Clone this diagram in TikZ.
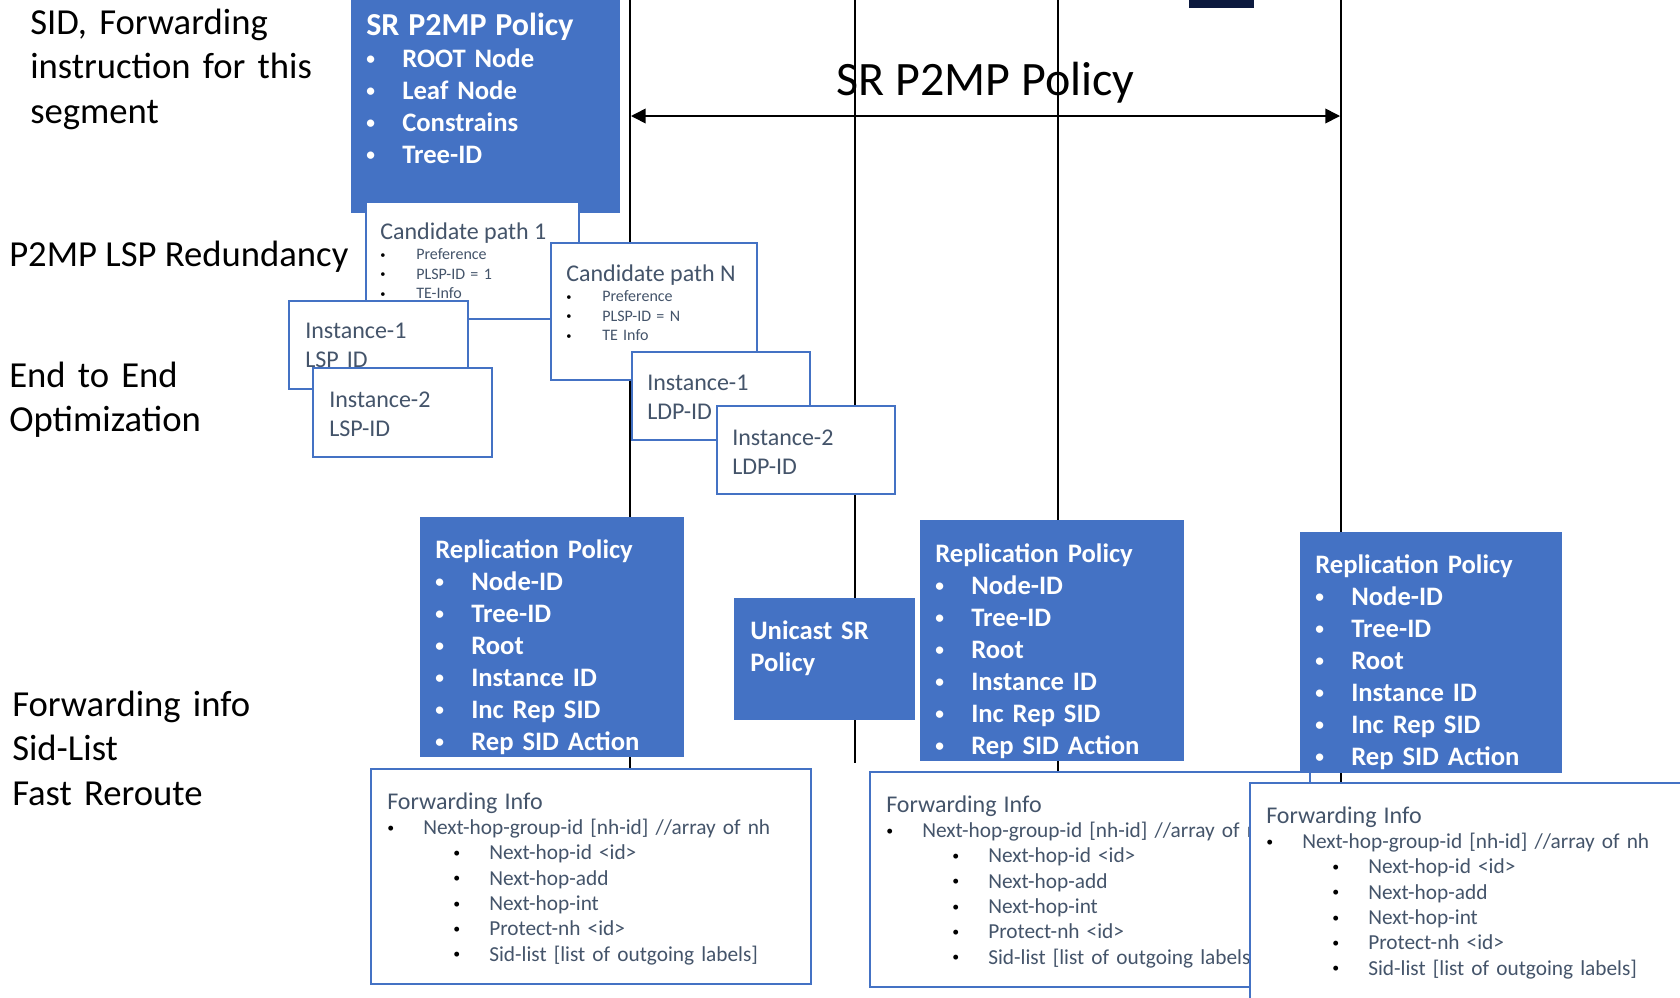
\documentclass[tikz,border=0pt]{standalone}
\usepackage{fontspec}
\usepackage{graphicx}
\setmainfont{Carlito}
\usetikzlibrary{arrows.meta}

\definecolor{pblue}{HTML}{4472C4}
\definecolor{ptext}{HTML}{44546A}
\definecolor{pnavy}{HTML}{0C1A3F}

\newcommand{\smalldot}{\raisebox{0.11em}{\scalebox{0.65}{\textbullet}}}
\newcommand{\whitedot}{\makebox[27pt][l]{\smalldot}}
\newcommand{\blackdot}{\makebox[27pt][l]{\textcolor{black}{\smalldot}}}
\newcommand{\subdot}{\hspace*{49.5pt}\blackdot}

\tikzset{
  box/.style={anchor=north west, inner sep=0pt, outer sep=0pt},
  bluebox/.style={box, fill=pblue},
  whitebox/.style={box, fill=white, draw=pblue, line width=1.5pt},
  bluetxt/.style={anchor=base west, inner sep=0pt, text=white, align=left, font=\fontsize{20}{24}\selectfont\bfseries},
  greytxt/.style={anchor=base west, inner sep=0pt, text=ptext, align=left},
  sidetxt/.style={anchor=base west, inner sep=0pt, align=left, font=\fontsize{27.5}{33.5}\selectfont},
  vline/.style={line width=1.3pt},
  spanarrow/.style={{Triangle[length=11pt,width=11pt]}-{Triangle[length=11pt,width=11pt]}, line width=1.2pt},
}

\begin{document}
\begin{tikzpicture}[x=0.75pt, y=-0.75pt]
\clip (0,0) rectangle (1680,997);

% left hand notes
\node[sidetxt, text width=220pt] (segnote) at (30,34) {SID, Forwarding\\instruction for this\\segment};
\node[sidetxt] (rednote) at (9,266) {P2MP LSP Redundancy};
\node[sidetxt, text width=160pt] (optnote) at (9,387) {End to End\\Optimization};
\node[sidetxt, text width=190pt] (fwdnote) at (12,716) {Forwarding info\\Sid-List\\Fast Reroute};

% node lines
\coordinate (l1top) at (630,0);  \coordinate (l1bot) at (630,769);
\coordinate (l2top) at (855,0);  \coordinate (l2bot) at (855,763);
\coordinate (l3top) at (1058,0); \coordinate (l3bot) at (1058,772);
\coordinate (l4top) at (1341,0); \coordinate (l4bot) at (1341,783);
\draw[vline] (l1top) -- (l1bot);
\draw[vline] (l2top) -- (l2bot);
\draw[vline] (l3top) -- (l3bot);
\draw[vline] (l4top) -- (l4bot);

\node[box, fill=pnavy, minimum width=48.75pt, minimum height=7.5pt] (navy) at (1189,-2) {};

% policy span
\coordinate (spanL) at (631,116);
\coordinate (spanR) at (1340,116);
\draw[spanarrow] (spanL) -- (spanR) node[midway, anchor=base, yshift=15.75pt, inner sep=0pt, font=\fontsize{36}{43}\selectfont] (spanlbl) {SR P2MP Policy};

% SR P2MP policy
\node[bluebox, minimum width=201.75pt, minimum height=161.25pt] (srbox) at (351,-2) {};
\node[bluetxt, text width=185pt] (srtxt) at (366,35) {{\fontsize{24}{24}\selectfont SR P2MP Policy}\\\whitedot ROOT Node\\\whitedot Leaf Node\\\whitedot Constrains\\\whitedot Tree-ID};

% candidate path 1 and its instances
\node[whitebox, minimum width=159.75pt, minimum height=87.75pt] (cp1) at (366,202) {};
\node[greytxt, text width=140pt, font=\fontsize{12}{14.6}\selectfont] (cp1txt) at (380,239) {{\fontsize{18}{14.6}\selectfont Candidate path 1}\\[1.1pt]\blackdot Preference\\\blackdot PLSP-ID = 1\\\blackdot TE-Info};
\node[whitebox, minimum width=134.25pt, minimum height=66pt] (lsp1) at (289,301) {};
\node[greytxt, text width=118pt, font=\fontsize{18}{21.75}\selectfont] (lsp1txt) at (305,338) {Instance-1\\LSP ID};
\node[whitebox, minimum width=134.25pt, minimum height=66.75pt] (lsp2) at (313,368) {};
\node[greytxt, text width=118pt, font=\fontsize{18}{21.75}\selectfont] (lsp2txt) at (329,407) {Instance-2\\LSP-ID};

% candidate path N and its instances
\node[whitebox, minimum width=154.5pt, minimum height=102.75pt] (cpn) at (551,243) {};
\node[greytxt, text width=140pt, font=\fontsize{12}{14.6}\selectfont] (cpntxt) at (566,281) {{\fontsize{18}{14.6}\selectfont Candidate path N}\\[1.1pt]\blackdot Preference\\\blackdot PLSP-ID = N\\\blackdot TE Info};
\node[whitebox, minimum width=133.5pt, minimum height=66pt] (ldp1) at (632,352) {};
\node[greytxt, text width=118pt, font=\fontsize{18}{21.75}\selectfont] (ldp1txt) at (647,390) {Instance-1\\LDP-ID};
\node[whitebox, minimum width=133.5pt, minimum height=66pt] (ldp2) at (717,406) {};
\node[greytxt, text width=118pt, font=\fontsize{18}{21.75}\selectfont] (ldp2txt) at (732,445) {Instance-2\\LDP-ID};

% replication policies
\node[bluebox, minimum width=198pt, minimum height=180pt] (rep1) at (420,517) {};
\node[bluetxt, text width=180pt] (rep1txt) at (435,558) {Replication Policy\\\whitedot Node-ID\\\whitedot Tree-ID\\\whitedot Root\\\whitedot Instance ID\\\whitedot Inc Rep SID\\\whitedot Rep SID Action};
\node[bluebox, minimum width=135.75pt, minimum height=91.5pt] (uni) at (734,598) {};
\node[bluetxt, text width=120pt] (unitxt) at (750,639) {Unicast SR\\Policy};
\node[bluebox, minimum width=198pt, minimum height=180.75pt] (rep2) at (920,520) {};
\node[bluetxt, text width=180pt] (rep2txt) at (935,562) {Replication Policy\\\whitedot Node-ID\\\whitedot Tree-ID\\\whitedot Root\\\whitedot Instance ID\\\whitedot Inc Rep SID\\\whitedot Rep SID Action};
\node[bluebox, minimum width=196.5pt, minimum height=180.75pt] (rep3) at (1300,532) {};
\node[bluetxt, text width=180pt] (rep3txt) at (1315,573) {Replication Policy\\\whitedot Node-ID\\\whitedot Tree-ID\\\whitedot Root\\\whitedot Instance ID\\\whitedot Inc Rep SID\\\whitedot Rep SID Action};

% forwarding info
\node[whitebox, minimum width=330pt, minimum height=161.25pt] (fwd1) at (371,769) {};
\node[greytxt, text width=310pt, font=\fontsize{16}{19}\selectfont] (fwd1txt) at (387,809) {{\fontsize{18}{19}\selectfont Forwarding Info}\\\blackdot Next-hop-group-id [nh-id] //array of nh\\\subdot Next-hop-id <id>\\\subdot Next-hop-add\\\subdot Next-hop-int\\\subdot Protect-nh <id>\\\subdot Sid-list [list of outgoing labels]};
\node[whitebox, minimum width=330pt, minimum height=161.25pt] (fwd2) at (870,772) {};
\node[greytxt, text width=310pt, font=\fontsize{16}{19}\selectfont] (fwd2txt) at (886,812) {{\fontsize{18}{19}\selectfont Forwarding Info}\\\blackdot Next-hop-group-id [nh-id] //array of nh\\\subdot Next-hop-id <id>\\\subdot Next-hop-add\\\subdot Next-hop-int\\\subdot Protect-nh <id>\\\subdot Sid-list [list of outgoing labels]};
\node[whitebox, minimum width=337.5pt, minimum height=170.25pt] (fwd3) at (1250,783) {};
\node[greytxt, text width=310pt, font=\fontsize{16}{19}\selectfont] (fwd3txt) at (1266,823) {{\fontsize{18}{19}\selectfont Forwarding Info}\\\blackdot Next-hop-group-id [nh-id] //array of nh\\\subdot Next-hop-id <id>\\\subdot Next-hop-add\\\subdot Next-hop-int\\\subdot Protect-nh <id>\\\subdot Sid-list [list of outgoing labels]};

\end{tikzpicture}
\end{document}
